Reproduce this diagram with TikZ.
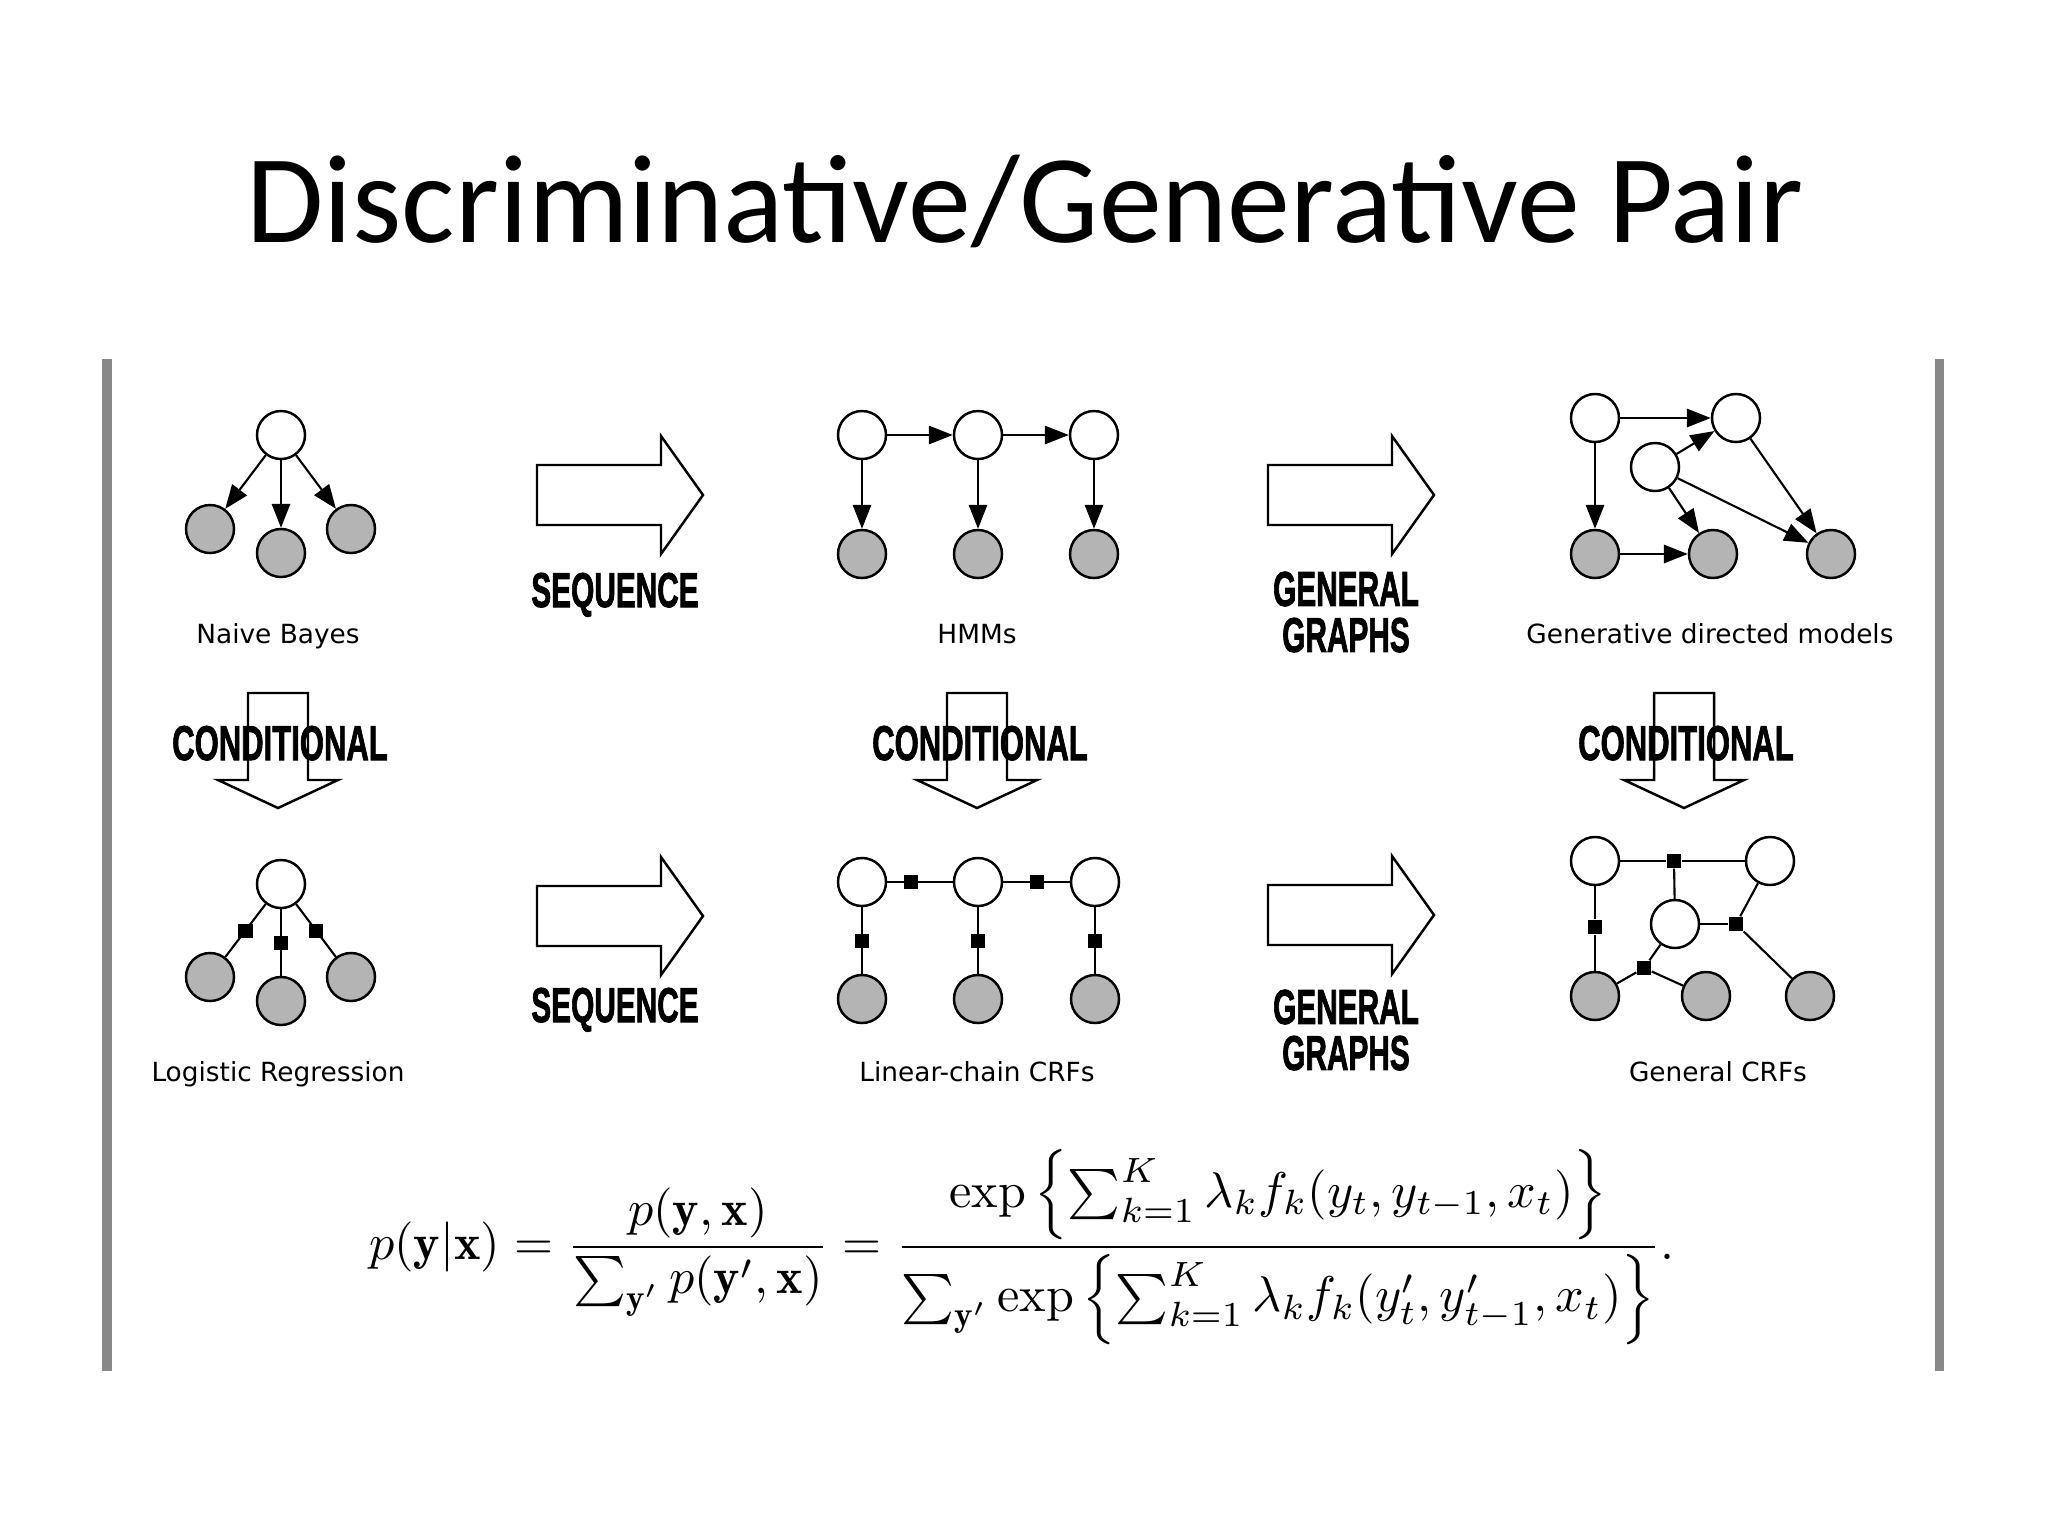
\documentclass[tikz,border=0pt]{standalone}
\usepackage{amsmath}
\usepackage{graphicx}
\usepackage{fontspec}
\usepackage{tikz}
\usetikzlibrary{arrows.meta, positioning}

\newfontfamily\titlefont{Carlito}
\newfontfamily\labelfont{DejaVu Sans}
\newfontfamily\heavyfont{Liberation Sans}[FakeBold=2]
\newcommand\squeeze[2][0.61]{\scalebox{#1}[1]{#2}}

\definecolor{obsgray}{RGB}{180,180,180}
\definecolor{bargray}{RGB}{136,136,136}

\begin{document}
\begin{tikzpicture}[x=0.01cm, y=-0.01cm,
    >={Triangle[length=6.8pt, width=5.2pt]},
    hid/.style={draw, circle, line width=0.7pt, fill=white,
                minimum size=0.48cm, inner sep=0pt},
    obs/.style={hid, fill=obsgray},
    fac/.style={rectangle, fill=black, minimum size=0.14cm, inner sep=0pt},
    edge/.style={line width=0.6pt},
    arr/.style={edge, ->},
    lbl/.style={font=\labelfont\fontsize{7.5}{9}\selectfont, anchor=base, inner sep=0pt},
    word/.style={font=\heavyfont\bfseries\fontsize{13.9}{13.1}\selectfont, anchor=base, inner sep=0pt},
    fat/.style={draw, line width=0.7pt, fill=white, line join=miter}
  ]
  \useasboundingbox (0,0) rectangle (2048,1536);

  \node[font=\titlefont\fontsize{35.8}{40}\selectfont, anchor=base] (title) at (1025,242)
    {Discriminative/Generative Pair};

  % frame of the figure
  \draw[bargray, line width=0.09cm] (107,359) -- (107,1371);
  \draw[bargray, line width=0.09cm] (1939,359) -- (1939,1371);

  % big hollow arrows
  \foreach \x/\y in {537/495, 1268/495, 537/916, 1268/915}
    \draw[fat] (\x,\y-30) -- ++(124,0) -- ++(0,-29) -- ++(42,59) -- ++(-42,59)
               -- ++(0,-29) -- ++(-124,0) -- cycle;
  \foreach \x in {278, 977, 1684}
    \draw[fat] (\x-30,693) -- ++(60,0) -- ++(0,87) -- ++(30,0) -- ++(-60,28)
               -- ++(-60,-28) -- ++(30,0) -- cycle;

  \node[word] (seq1) at (615,607)  {\squeeze{SEQUENCE}};
  \node[word] (seq2) at (615,1022) {\squeeze{SEQUENCE}};
  \node[word, anchor=north, align=center] (gg1) at (1346,571)
    {\squeeze{GENERAL}\\\squeeze{GRAPHS}};
  \node[word, anchor=north, align=center] (gg2) at (1346,989)
    {\squeeze{GENERAL}\\\squeeze{GRAPHS}};
  \node[word] (cond1) at (280,760)  {\squeeze[0.635]{CONDITIONAL}};
  \node[word] (cond2) at (980,760)  {\squeeze[0.635]{CONDITIONAL}};
  \node[word] (cond3) at (1686,760) {\squeeze[0.635]{CONDITIONAL}};

  % naive Bayes
  \node[hid] (nb)  at (281,435) {};
  \node[obs] (nb1) at (210,529) {};
  \node[obs] (nb2) at (281,553) {};
  \node[obs] (nb3) at (351,529) {};
  \foreach \c in {nb1,nb2,nb3}
    \draw[arr] (nb) -- (\c);
  \node[lbl] (nbl) at (278,643) {Naive Bayes};

  % HMM
  \node[hid] (h1) at (862,435) {};
  \node[hid] (h2) at (978,435) {};
  \node[hid] (h3) at (1094,435) {};
  \node[obs] (o1) at (862,554) {};
  \node[obs] (o2) at (978,554) {};
  \node[obs] (o3) at (1094,554) {};
  \draw[arr] (h1) -- (h2);
  \draw[arr] (h2) -- (h3);
  \foreach \i in {1,2,3}
    \draw[arr] (h\i) -- (o\i);
  \node[lbl] (hmml) at (977,643) {HMMs};

  % generative directed model
  \node[hid] (ga) at (1595,418) {};
  \node[hid] (gb) at (1736,418) {};
  \node[hid] (gc) at (1655,467) {};
  \node[obs] (gd) at (1595,554) {};
  \node[obs] (ge) at (1713,554) {};
  \node[obs] (gf) at (1831,554) {};
  \draw[arr] (ga) -- (gb);
  \draw[arr] (ga) -- (gd);
  \draw[arr] (gc) -- (gb);
  \draw[arr] (gc) -- (ge);
  \draw[arr] (gc) -- (gf);
  \draw[arr] (gb) -- (gf);
  \draw[arr] (gd) -- (ge);
  \node[lbl] (gdml) at (1710,643) {Generative directed models};

  % logistic regression
  \node[hid] (lr)  at (281,884) {};
  \node[obs] (lr1) at (210,977) {};
  \node[obs] (lr2) at (281,1001) {};
  \node[obs] (lr3) at (351,977) {};
  \foreach \i in {1,2,3}
    \draw[edge] (lr) -- node[fac] (lrf\i) {} (lr\i);
  \node[lbl] (lrl) at (278,1081) {Logistic Regression};

  % linear-chain CRF
  \node[hid] (c1) at (862,882) {};
  \node[hid] (c2) at (978,882) {};
  \node[hid] (c3) at (1095,882) {};
  \node[obs] (x1) at (862,999) {};
  \node[obs] (x2) at (978,999) {};
  \node[obs] (x3) at (1095,999) {};
  \draw[edge] (c1) -- node[fac, pos=0.37] (cf12) {} (c2);
  \draw[edge] (c2) -- node[fac] (cf23) {} (c3);
  \foreach \i in {1,2,3}
    \draw[edge] (c\i) -- node[fac] (cx\i) {} (x\i);
  \node[lbl] (lcl) at (977,1081) {Linear-chain CRFs};

  % general CRF
  \node[hid] (ka) at (1595,861) {};
  \node[hid] (kb) at (1770,861) {};
  \node[hid] (kc) at (1675,924) {};
  \node[obs] (kd) at (1595,996) {};
  \node[obs] (ke) at (1706,996) {};
  \node[obs] (kf) at (1810,996) {};
  \node[fac] (kf1) at (1674,861) {};
  \node[fac] (kf2) at (1595,927) {};
  \node[fac] (kf3) at (1736,924) {};
  \node[fac] (kf4) at (1644,968) {};
  \draw[edge] (ka) -- (kf1) -- (kb);
  \draw[edge] (kf1) -- (kc);
  \draw[edge] (ka) -- (kf2) -- (kd);
  \draw[edge] (kb) -- (kf3) -- (kf);
  \draw[edge] (kf3) -- (kc);
  \draw[edge] (kc) -- (kf4) -- (kd);
  \draw[edge] (kf4) -- (ke);
  \node[lbl] (gcl) at (1718,1081) {General CRFs};

  % conditional likelihood
  \node (eq) at (1022,1247) {\resizebox{13.05cm}{!}{$\displaystyle
    p(\mathbf{y}|\mathbf{x}) = \frac{p(\mathbf{y},\mathbf{x})}{\sum_{\mathbf{y}'} p(\mathbf{y}',\mathbf{x})}
    = \frac{\exp\left\{\sum_{k=1}^{K} \lambda_k f_k(y_t, y_{t-1}, x_t)\right\}}
           {\sum_{\mathbf{y}'} \exp\left\{\sum_{k=1}^{K} \lambda_k f_k(y'_t, y'_{t-1}, x_t)\right\}}.$}};
\end{tikzpicture}
\end{document}
